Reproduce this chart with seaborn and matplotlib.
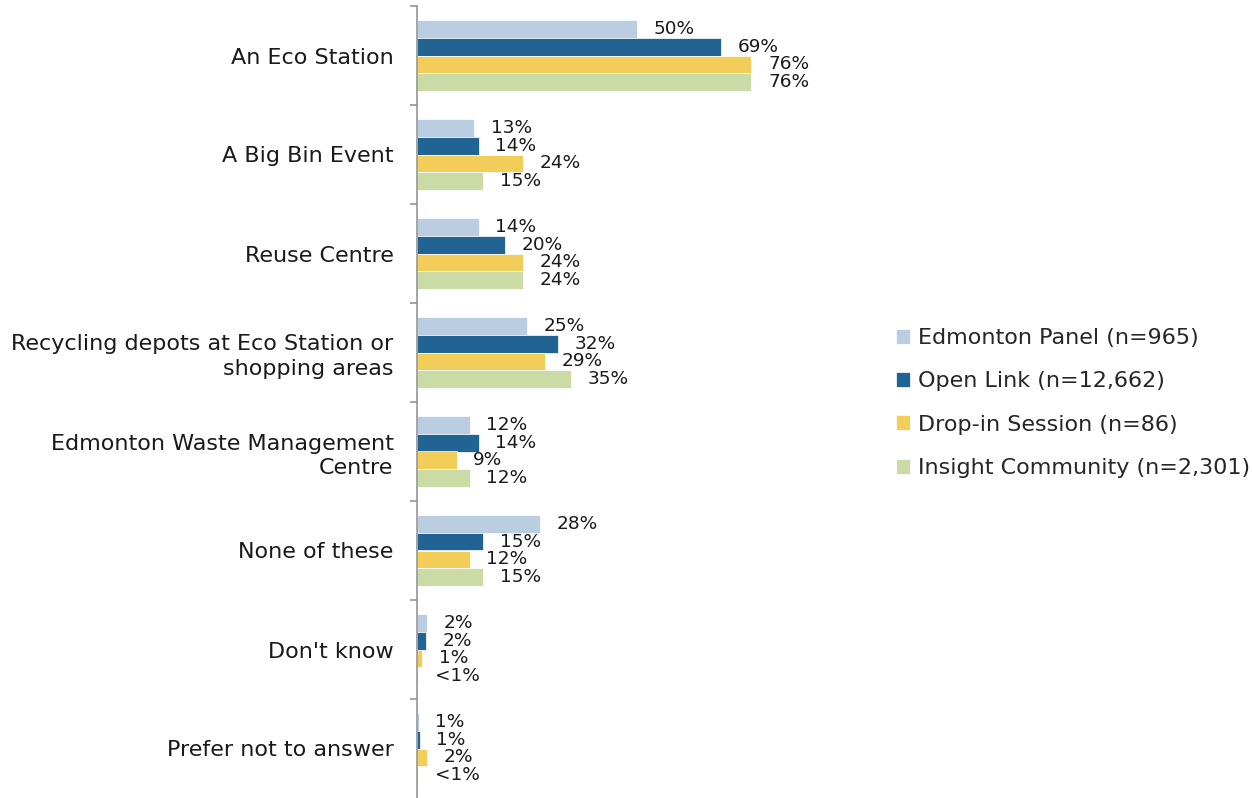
import matplotlib
matplotlib.use("Agg")
import matplotlib.pyplot as plt
import seaborn as sns
import pandas as pd

categories = [
    "An Eco Station",
    "A Big Bin Event",
    "Reuse Centre",
    "Recycling depots at Eco Station or\nshopping areas",
    "Edmonton Waste Management\nCentre",
    "None of these",
    "Don't know",
    "Prefer not to answer",
]
series = [
    "Edmonton Panel (n=965)",
    "Open Link (n=12,662)",
    "Drop-in Session (n=86)",
    "Insight Community (n=2,301)",
]
panel = [50, 13, 14, 25, 12, 28, 2.3, 0.4]
open_link = [69, 14, 20, 32, 14, 15, 2.0, 0.6]
drop_in = [76, 24, 24, 29, 9, 12, 1.2, 2.2]
insight = [76, 15, 24, 35, 12, 15, 0.2, 0.2]

panel_lbl = ["50%", "13%", "14%", "25%", "12%", "28%", "2%", "1%"]
open_link_lbl = ["69%", "14%", "20%", "32%", "14%", "15%", "2%", "1%"]
drop_in_lbl = ["76%", "24%", "24%", "29%", "9%", "12%", "1%", "2%"]
insight_lbl = ["76%", "15%", "24%", "35%", "12%", "15%", "<1%", "<1%"]

colors = ["#BBCDE0", "#216494", "#F2CD5A", "#CBDBA5"]

sns.set_style("white")
plt.rcParams["font.family"] = ["DejaVu Sans"]

rows = []
for s, vals in zip(series, [panel, open_link, drop_in, insight]):
    for c, v in zip(categories, vals):
        rows.append({"category": c, "series": s, "value": v})
df = pd.DataFrame(rows)

fig = plt.figure(figsize=(12.52, 7.98), dpi=100)
ax = fig.add_axes([417 / 1252, 0.0, 440 / 1252, 1 - 6 / 798])

sns.barplot(
    data=df, y="category", x="value", hue="series", orient="h",
    order=categories, hue_order=series, palette=colors, saturation=1,
    width=0.727, gap=0, edgecolor="white", linewidth=0.5, ax=ax,
)

for cont, lbls in zip(ax.containers, [panel_lbl, open_link_lbl, drop_in_lbl, insight_lbl]):
    ax.bar_label(cont, labels=lbls, padding=12, fontsize=13.3, color="#1a1a1a")

ax.set_xlim(0, 100)
ax.set_ylim(7.5, -0.5)
ax.set_xlabel("")
ax.set_ylabel("")
ax.set_xticks([])
for sp in ["top", "right", "bottom"]:
    ax.spines[sp].set_visible(False)
ax.spines["left"].set_color("#8c8c8c")
ax.spines["left"].set_linewidth(1.1)

ax.set_yticks(range(len(categories)))
ax.set_yticklabels(categories, fontsize=16, color="#1a1a1a", linespacing=1.3)
ax.tick_params(axis="y", which="major", left=True, length=0, pad=17)
ax.set_yticks([i - 0.5 for i in range(len(categories))], minor=True)
ax.tick_params(axis="y", which="minor", left=True, length=5, width=1.1,
               color="#8c8c8c", direction="out")

handles, labs = ax.get_legend_handles_labels()
ax.legend_.remove()
fig.legend(
    handles, labs, loc="center left", bbox_to_anchor=(896 / 1252, 1 - 403 / 798),
    frameon=False, fontsize=16, handlelength=0.65, handleheight=0.65,
    handletextpad=0.35, labelspacing=1.05, borderpad=0, borderaxespad=0,
)

fig.savefig("out.png", dpi=100)
